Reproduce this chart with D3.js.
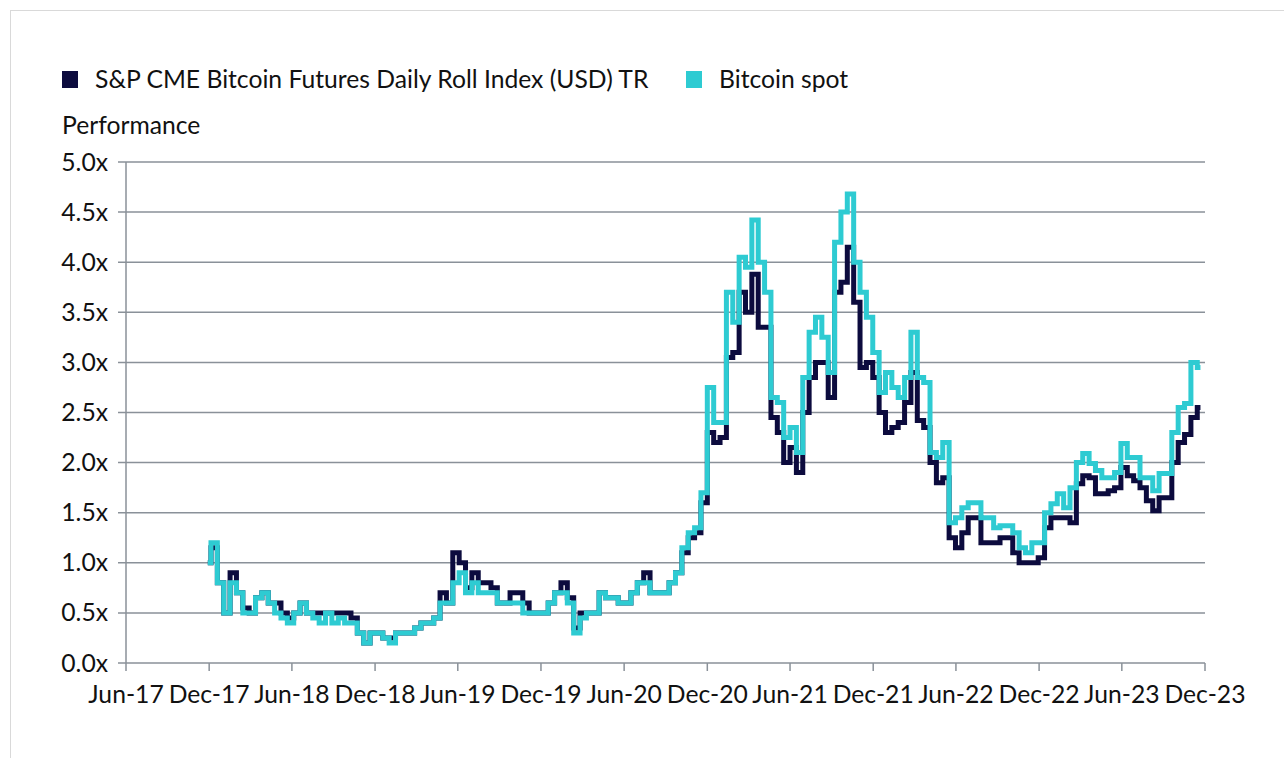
<!DOCTYPE html>
<html>
<head>
<meta charset="utf-8">
<script src="https://cdn.jsdelivr.net/npm/d3@7"></script>
<style>
  html, body { margin: 0; padding: 0; background: #fff; }
  svg { display: block; }
  text { font-family: Lato, "Open Sans", sans-serif; fill: #111; }
</style>
</head>
<body>
<svg id="chart" width="1284" height="758"></svg>
<script>
// ---- data ----
const seriesNames = ["S&P CME Bitcoin Futures Daily Roll Index (USD) TR", "Bitcoin spot"];
const seriesColors = ["#0c0b3e", "#2ecbd2"];
const firstDate = "2017-11-28";
const stepDays = 14;
const yTicks = [0, 0.5, 1.0, 1.5, 2.0, 2.5, 3.0, 3.5, 4.0, 4.5, 5.0];
const xTickLabels = ["Jun-17","Dec-17","Jun-18","Dec-18","Jun-19","Dec-19","Jun-20","Dec-20","Jun-21","Dec-21","Jun-22","Dec-22","Jun-23","Dec-23"];

const futures = [
 1.0,1.15,0.8,0.5,0.9,0.7,0.55,0.5,0.65,0.7,
 0.6,0.6,0.5,0.45,0.5,0.6,0.5,0.5,0.5,0.5,
 0.5,0.5,0.5,0.45,0.3,0.2,0.3,0.3,0.25,0.25,
 0.3,0.3,0.3,0.35,0.4,0.4,0.45,0.7,0.6,1.1,
 1.0,0.75,0.9,0.8,0.8,0.75,0.6,0.6,0.7,0.7,
 0.6,0.5,0.5,0.5,0.6,0.7,0.8,0.65,0.35,0.5,
 0.5,0.5,0.7,0.65,0.65,0.6,0.6,0.7,0.8,0.9,
 0.7,0.7,0.7,0.8,0.9,1.1,1.25,1.3,1.6,2.3,
 2.2,2.25,3.05,3.1,3.7,3.5,3.88,3.35,3.35,2.45,
 2.3,2.0,2.15,1.9,2.5,2.85,3.0,3.0,2.65,3.7,
 3.8,4.15,3.6,2.95,3.0,2.85,2.5,2.3,2.35,2.4,
 2.6,2.9,2.42,2.35,2.0,1.8,1.85,1.25,1.15,1.3,
 1.45,1.45,1.2,1.2,1.2,1.25,1.25,1.1,1.0,1.0,
 1.0,1.05,1.35,1.45,1.45,1.45,1.4,1.79,1.87,1.85,
 1.69,1.69,1.72,1.75,1.95,1.87,1.82,1.75,1.62,1.52,
 1.65,1.65,2.0,2.2,2.28,2.45,2.55
];
const spot = [
 1.0,1.2,0.8,0.5,0.8,0.7,0.5,0.5,0.65,0.7,
 0.6,0.5,0.45,0.4,0.5,0.6,0.5,0.45,0.4,0.5,
 0.4,0.45,0.4,0.4,0.3,0.2,0.3,0.3,0.25,0.2,
 0.3,0.3,0.3,0.35,0.4,0.4,0.45,0.6,0.6,0.8,
 0.9,0.7,0.8,0.7,0.7,0.7,0.6,0.6,0.6,0.6,
 0.5,0.5,0.5,0.5,0.6,0.7,0.7,0.6,0.3,0.45,
 0.5,0.5,0.7,0.65,0.65,0.6,0.6,0.7,0.8,0.8,
 0.7,0.7,0.7,0.8,0.9,1.15,1.3,1.35,1.7,2.75,
 2.4,2.4,3.7,3.4,4.05,3.95,4.42,4.0,3.7,2.65,
 2.6,2.25,2.35,2.1,2.85,3.3,3.45,3.25,2.9,4.2,
 4.5,4.68,4.0,3.7,3.45,3.1,2.7,2.9,2.75,2.65,
 2.85,3.3,2.85,2.8,2.1,2.05,2.2,1.4,1.45,1.55,
 1.6,1.6,1.45,1.45,1.35,1.37,1.37,1.3,1.15,1.1,
 1.2,1.2,1.5,1.59,1.69,1.55,1.75,2.0,2.09,1.99,
 1.92,1.85,1.85,1.9,2.19,2.05,2.05,1.85,1.85,1.72,
 1.89,1.89,2.3,2.55,2.59,3.0,2.95
];

// ---- layout ----
const svg = d3.select("#chart");
const plotL = 126, plotR = 1205, plotT = 162, plotB = 663;
const fontPx = 24.7;
const parse = d3.timeParse("%Y-%m-%d");
const start = parse(firstDate);
const dates = futures.map((_, i) => d3.timeDay.offset(start, i * stepDays));
const axisStart = new Date(2017, 5, 1);
const tickDates = xTickLabels.map((_, i) => d3.timeMonth.offset(axisStart, 6 * i));

const x = d3.scaleTime()
  .domain([axisStart, tickDates[tickDates.length - 1]])
  .range([plotL, plotR]);
const y = d3.scaleLinear().domain([0, 5]).range([plotB, plotT]);

// outer frame
svg.append("rect").attr("x", 10.5).attr("y", 10.5)
  .attr("width", 1400).attr("height", 900)
  .attr("fill", "none").attr("stroke", "#d9d9d9").attr("stroke-width", 1);

// gridlines + y ticks
const gridColor = "#8a9199";
svg.append("g").selectAll("line").data(yTicks).join("line")
  .attr("x1", plotL - 8).attr("x2", plotR)
  .attr("y1", d => y(d)).attr("y2", d => y(d))
  .attr("stroke", gridColor).attr("stroke-width", 1.5);

// y axis line
svg.append("line").attr("x1", plotL).attr("x2", plotL)
  .attr("y1", plotT).attr("y2", plotB)
  .attr("stroke", gridColor).attr("stroke-width", 1.5);

// x ticks
svg.append("g").selectAll("line").data(tickDates).join("line")
  .attr("x1", d => x(d)).attr("x2", d => x(d))
  .attr("y1", plotB).attr("y2", plotB + 8)
  .attr("stroke", gridColor).attr("stroke-width", 1.5);

svg.append("g").selectAll("text").data(tickDates).join("text")
  .attr("x", d => x(d)).attr("y", 703)
  .attr("text-anchor", "middle")
  .attr("font-size", fontPx)
  .text((d, i) => xTickLabels[i]);

// y tick labels
const fmt = d3.format(".1f");
svg.append("g").selectAll("text").data(yTicks).join("text")
  .attr("x", 108).attr("y", d => y(d) + 8.5)
  .attr("text-anchor", "end")
  .attr("font-size", fontPx)
  .text(d => fmt(d) + "x");

// axis title
svg.append("text").attr("x", 62).attr("y", 134).attr("font-size", fontPx).text("Performance");

// legend
const legendX = [62, 686];
seriesNames.forEach((name, i) => {
  svg.append("rect").attr("x", legendX[i]).attr("y", 71)
    .attr("width", 16).attr("height", 17).attr("fill", seriesColors[i]);
  svg.append("text").attr("x", legendX[i] + 33).attr("y", 88)
    .attr("font-size", fontPx).text(name);
});

// lines
const line = d3.line()
  .x((d, i) => x(dates[i]))
  .y(d => y(d))
  .curve(d3.curveStep);

[futures, spot].forEach((vals, i) => {
  svg.append("path").datum(vals)
    .attr("d", line)
    .attr("fill", "none")
    .attr("stroke", seriesColors[i])
    .attr("stroke-width", 5)
    .attr("stroke-linejoin", "miter")
    .attr("stroke-miterlimit", 2);
});
</script>
</body>
</html>
